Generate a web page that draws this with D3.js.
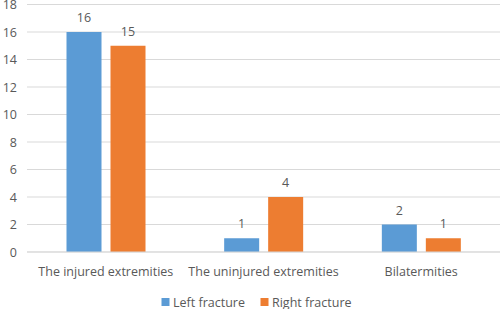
<!DOCTYPE html>
<html><head><meta charset="utf-8">
<script src="https://cdn.jsdelivr.net/npm/d3@7"></script>
<style>body{margin:0;background:#fff}svg{display:block}text{font-family:"Open Sans","Liberation Sans",sans-serif;fill:#595959}</style>
</head><body><svg id="c" width="500" height="309"></svg>
<script>
const categories = ["The injured extremities", "The uninjured extremities", "Bilatermities"];
const seriesNames = ["Left fracture", "Right fracture"];
const leftFracture = [16, 1, 2];
const rightFracture = [15, 4, 1];
const yTicks = [0, 2, 4, 6, 8, 10, 12, 14, 16, 18];
const colors = ["#5B9BD5", "#ED7D31"];

const svg = d3.select("#c");
const x = d3.scaleBand().domain(categories).range([27, 500]).paddingInner(0).paddingOuter(0);
const xs = d3.scaleBand().domain(seriesNames).range([39.5, 118.5]).paddingInner(0.2045);
const y = d3.scaleLinear().domain([0, 18]).range([252, 4.5]);

// gridlines
svg.append("g").selectAll("line").data(yTicks).join("line")
  .attr("x1", 27).attr("x2", 500)
  .attr("y1", d => y(d)).attr("y2", d => y(d))
  .attr("stroke", "#D9D9D9").attr("stroke-width", 1);

// y axis labels
const yAxis = d3.axisLeft(y).tickValues(yTicks).tickSize(0).tickPadding(0);
const ya = svg.append("g").attr("transform", "translate(17,0)").call(yAxis);
ya.select(".domain").remove();
ya.selectAll("text").style("font-size", "12.5px").attr("fill", "#595959").attr("text-anchor", "end").attr("dy", "0.35em");

const data = [leftFracture, rightFracture];
data.forEach((vals, si) => {
  const g = svg.append("g");
  g.selectAll("rect").data(vals).join("rect")
    .attr("x", (d, i) => x(categories[i]) + xs(seriesNames[si]))
    .attr("width", xs.bandwidth())
    .attr("y", d => y(d))
    .attr("height", d => y(0) - y(d))
    .attr("fill", colors[si]);
  g.selectAll("text").data(vals).join("text")
    .attr("x", (d, i) => x(categories[i]) + xs(seriesNames[si]) + xs.bandwidth() / 2)
    .attr("y", d => y(d) - 10)
    .attr("text-anchor", "middle")
    .style("font-size", "12.5px")
    .text(d => d);
});

// x axis line
svg.append("line").attr("x1", 27).attr("x2", 500).attr("y1", y(0)).attr("y2", y(0)).attr("stroke", "#D9D9D9");

// x axis labels
const xAxis = d3.axisBottom(x).tickSize(0).tickPadding(0);
const xa = svg.append("g").attr("transform", "translate(0,276)").call(xAxis);
xa.select(".domain").remove();
xa.selectAll("text").style("font-size", "12.5px").attr("fill", "#595959").attr("dy", "0");

// legend
const legX = [161.5, 260.5];
seriesNames.forEach((n, i) => {
  svg.append("rect").attr("x", legX[i]).attr("y", 298).attr("width", 8).attr("height", 8).attr("fill", colors[i]);
  svg.append("text").attr("x", legX[i] + 11.5).attr("y", 306.5).style("font-size", "12.5px").text(n);
});
</script></body></html>
